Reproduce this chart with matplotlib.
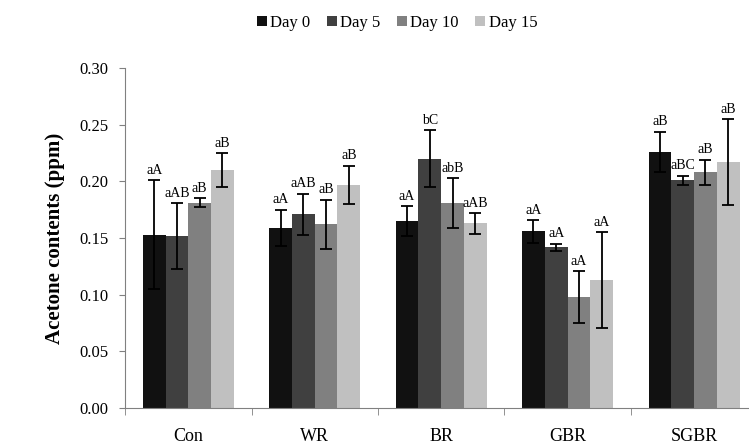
import numpy as np
import matplotlib
matplotlib.use('Agg')
import matplotlib.pyplot as plt

plt.rcParams['font.family'] = ['Liberation Serif', 'DejaVu Serif']

groups = ['Con', 'WR', 'BR', 'GBR', 'SGBR']
days = ['Day 0', 'Day 5', 'Day 10', 'Day 15']
colors = ['#111111', '#404040', '#808080', '#c0c0c0']

# mean values, one list per day (order = groups)
day0 = [0.153, 0.159, 0.165, 0.156, 0.226]
day5 = [0.152, 0.171, 0.220, 0.142, 0.201]
day10 = [0.181, 0.162, 0.181, 0.098, 0.208]
day15 = [0.210, 0.197, 0.163, 0.113, 0.217]

err0 = [0.048, 0.016, 0.013, 0.010, 0.018]
err5 = [0.029, 0.018, 0.025, 0.003, 0.004]
err10 = [0.004, 0.022, 0.022, 0.023, 0.011]
err15 = [0.015, 0.017, 0.009, 0.042, 0.038]

lab0 = ['aA', 'aA', 'aA', 'aA', 'aB']
lab5 = ['aAB', 'aAB', 'bC', 'aA', 'aBC']
lab10 = ['aB', 'aB', 'abB', 'aA', 'aB']
lab15 = ['aB', 'aB', 'aAB', 'aA', 'aB']

means = [day0, day5, day10, day15]
errs = [err0, err5, err10, err15]
labels = [lab0, lab5, lab10, lab15]

fig = plt.figure(figsize=(7.49, 4.45), dpi=100)
ax = fig.add_axes([0.167, 0.083, 0.844, 0.764])

x = np.arange(len(groups))
w = 0.18
for i in range(4):
    pos = x + (i - 1.5) * w
    ax.bar(pos, means[i], w, color=colors[i], label=days[i], zorder=2)
    ax.errorbar(pos, means[i], yerr=errs[i], fmt='none', ecolor='black',
                elinewidth=1.3, capsize=4.5, capthick=1.3, zorder=3)
    for p, m, e, t in zip(pos, means[i], errs[i], labels[i]):
        ax.text(p, m + e + 0.003, t, ha='center', va='bottom', fontsize=10)

ax.set_xlim(-0.5, 4.5)
ax.set_ylim(0, 0.30)
ax.set_yticks(np.arange(0, 0.301, 0.05))
ax.set_yticklabels(['%.2f' % v for v in np.arange(0, 0.301, 0.05)], fontsize=12)
ax.set_xticks(x)
ax.set_xticklabels(groups, fontsize=13)
ax.set_xticks(np.arange(-0.5, 5, 1), minor=True)
ax.tick_params(axis='x', which='major', length=0, pad=14)
ax.tick_params(axis='x', which='minor', length=5, color='#808080')
ax.tick_params(axis='y', length=4, color='#808080', pad=8)

for s in ['top', 'right']:
    ax.spines[s].set_visible(False)
for s in ['left', 'bottom']:
    ax.spines[s].set_color('#808080')

ax.set_ylabel('Acetone contents (ppm)', fontsize=15, fontweight='bold', labelpad=10)

fig.legend(loc='upper center', bbox_to_anchor=(0.53, 1.0), ncol=4, frameon=False,
           fontsize=12, handlelength=0.6, handleheight=0.6, handletextpad=0.2,
           columnspacing=1.0)

plt.savefig('out.png', dpi=100)
